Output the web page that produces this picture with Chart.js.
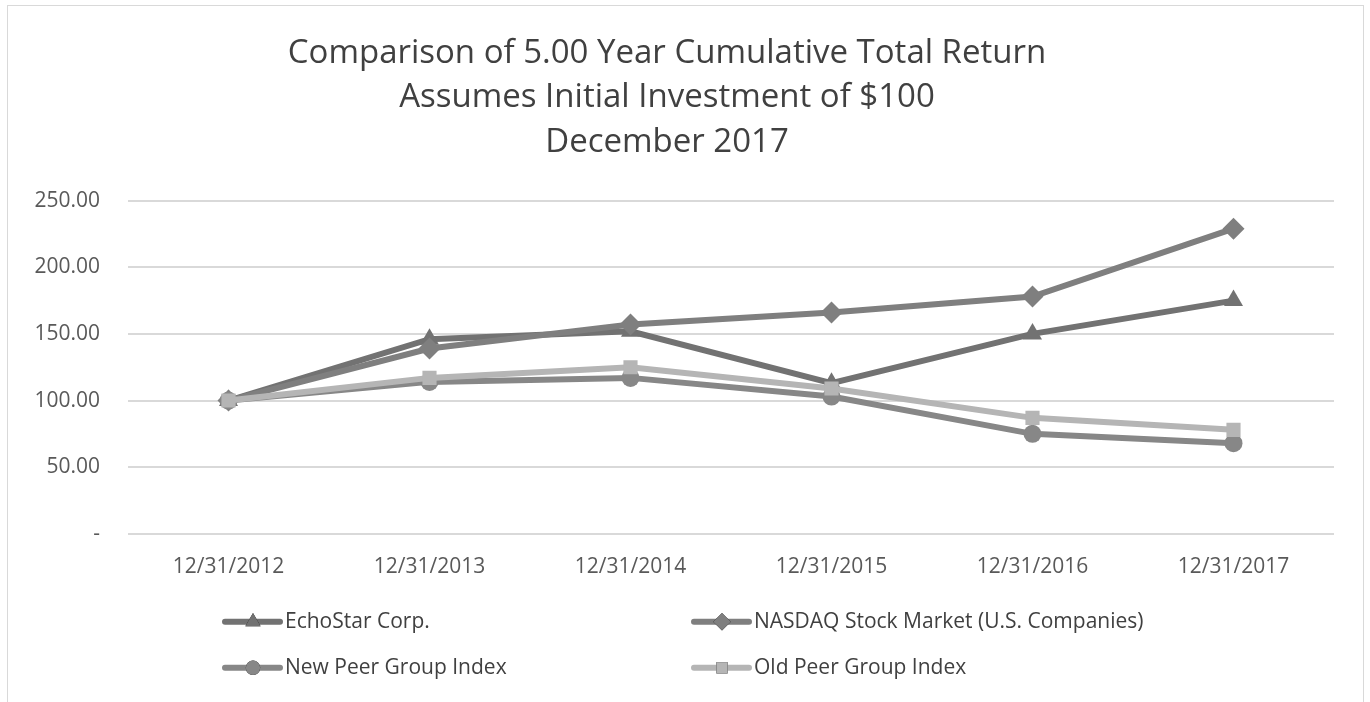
<!DOCTYPE html>
<html>
<head>
<meta charset="utf-8">
<script src="https://cdn.jsdelivr.net/npm/chart.js@4.4.1/dist/chart.umd.min.js"></script>
<style>
  html, body { margin: 0; padding: 0; background: #fff; overflow: hidden; }
  #wrap { position: relative; width: 1370px; height: 702px; }
  #frame { position: absolute; left: 7px; top: 5px; width: 1357px; height: 720px; border: 1px solid #d9d9d9; box-sizing: border-box; }
  canvas { position: absolute; left: 0; top: 0; }
</style>
</head>
<body>
<div id="wrap">
  <div id="frame"></div>
  <canvas id="chart" width="1370" height="702"></canvas>
</div>
<script>
const years = ["12/31/2012", "12/31/2013", "12/31/2014", "12/31/2015", "12/31/2016", "12/31/2017"];
const echostar = [100, 146, 152, 113, 150, 175];
const nasdaq = [100, 139, 157, 166, 178, 229];
const newPeer = [100, 114, 117, 103, 75, 68];
const oldPeer = [100, 117, 125, 109, 87, 78];
const titleLines = ["Comparison of 5.00 Year Cumulative Total Return", "Assumes Initial Investment of $100", "December 2017"];

const FONT = "'Open Sans', sans-serif";

// legend drawn in two columns like the original
const legendPlugin = {
  id: "twoColLegend",
  afterDraw(chart) {
    const ctx = chart.ctx;
    const area = chart.chartArea;
    const cols = [223, 692];
    const rows = [area.bottom + 88, area.bottom + 134];
    chart.data.datasets.forEach((ds, i) => {
      const x = cols[i % 2];
      const y = rows[Math.floor(i / 2)];
      ctx.save();
      ctx.strokeStyle = ds.borderColor;
      ctx.lineWidth = 6;
      ctx.lineCap = "round";
      ctx.beginPath();
      ctx.moveTo(x + 2, y);
      ctx.lineTo(x + 57, y);
      ctx.stroke();
      Chart.helpers.drawPoint(ctx, {
        pointStyle: ds.pointStyle,
        radius: ds.pointRadius * 0.8,
        rotation: 0,
        borderWidth: 0
      }, x + 30, y);
      ctx.fillStyle = ds.borderColor;
      ctx.fill();
      ctx.fillStyle = "#404040";
      ctx.font = "21px " + FONT;
      ctx.textBaseline = "middle";
      ctx.fillText(ds.label, x + 62, y);
      ctx.restore();
    });
  }
};

function series(label, data, color, style, radius, order) {
  return {
    label: label,
    data: data,
    borderColor: color,
    backgroundColor: color,
    pointBackgroundColor: color,
    pointBorderWidth: 0,
    pointStyle: style,
    pointRadius: radius,
    borderWidth: 6,
    tension: 0,
    order: order
  };
}

new Chart(document.getElementById("chart"), {
  type: "line",
  data: {
    labels: years,
    datasets: [
      series("EchoStar Corp.", echostar, "#727272", "triangle", 11, 4),
      series("NASDAQ Stock Market (U.S. Companies)", nasdaq, "#7f7f7f", "rectRot", 11, 3),
      series("New Peer Group Index", newPeer, "#878787", "circle", 9, 2),
      series("Old Peer Group Index", oldPeer, "#b5b5b5", "rect", 10, 1)
    ]
  },
  options: {
    responsive: false,
    animation: false,
    layout: { padding: { left: 0, right: 36, top: 0, bottom: 109 } },
    plugins: {
      legend: { display: false },
      tooltip: { enabled: false },
      title: {
        display: true,
        text: titleLines,
        color: "#404040",
        font: { family: FONT, size: 33, weight: "normal", lineHeight: 1.35 },
        padding: { top: 31, bottom: 36 }
      }
    },
    scales: {
      x: {
        offset: true,
        grid: { display: false },
        border: { display: false },
        ticks: { color: "#595959", font: { family: FONT, size: 21 }, padding: 13, maxRotation: 0 }
      },
      y: {
        min: 0,
        max: 250,
        afterFit(scale) { scale.width = 128; },
        grid: { color: "#d9d9d9", lineWidth: 2, drawTicks: false },
        border: { display: false },
        ticks: {
          stepSize: 50,
          color: "#595959",
          font: { family: FONT, size: 21 },
          padding: 28,
          callback: v => v === 0 ? "-" : v.toFixed(2)
        }
      }
    }
  },
  plugins: [legendPlugin]
});
</script>
</body>
</html>
